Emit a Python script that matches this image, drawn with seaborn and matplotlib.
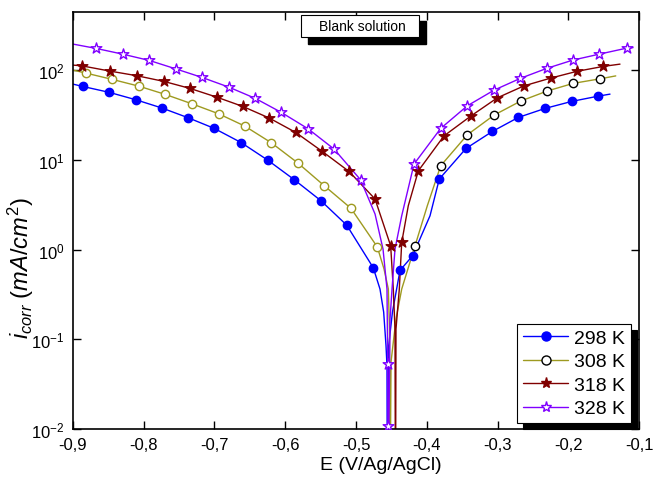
import numpy as np
import pandas as pd
import matplotlib
matplotlib.use("Agg")
import matplotlib.pyplot as plt
import seaborn as sns
from matplotlib.lines import Line2D
from matplotlib.patches import Rectangle

# =============================
# Data
# E in V vs Ag/AgCl, i in mA/cm2
# *_sym : points drawn with a symbol
# *_crv : extra points of the curve (ends, dip at Ecorr), no symbol
# =============================
E_298_sym = [-0.8863, -0.8487, -0.8110, -0.7738, -0.7370, -0.7003, -0.6625, -0.6248,
             -0.5872, -0.5495, -0.5131, -0.4756,
             -0.4378, -0.4200, -0.3823, -0.3445, -0.3074, -0.2706, -0.2329, -0.1951, -0.1575]
i_298_sym = [65.8, 56.5, 46.7, 37.7, 29.4, 22.4, 15.6, 9.93, 6.0, 3.5, 1.87, 0.627,
             0.586, 0.853, 6.11, 13.4, 20.7, 29.7, 37.4, 44.8, 51.3]
E_298_crv = [-0.900, -0.4661, -0.4609, -0.4576, -0.4562, -0.4557, -0.4538, -0.4485, -0.4426,
             -0.3954, -0.1410]
i_298_crv = [69.8, 0.363, 0.201, 0.085, 0.0507, 0.001, 0.085, 0.201, 0.363, 2.38, 54.0]

E_308_sym = [-0.8816, -0.8445, -0.8071, -0.7695, -0.7318, -0.6941, -0.6573, -0.6197,
             -0.5820, -0.5448, -0.5071, -0.4699,
             -0.4166, -0.3803, -0.3427, -0.3049, -0.2672, -0.2300, -0.1929, -0.1551]
i_308_sym = [92.6, 78.8, 66.3, 53.6, 42.1, 32.6, 23.8, 15.5, 9.2, 5.14, 2.88, 1.07,
             1.10, 8.59, 19.0, 31.5, 45.2, 58.4, 71.2, 80.0]
E_308_crv = [-0.900, -0.4604, -0.4543, -0.4527, -0.4520, -0.4505, -0.4435, -0.4354,
             -0.3992, -0.1329]
i_308_crv = [100.0, 0.607, 0.363, 0.13, 0.001, 0.056, 0.168, 0.363, 3.08, 86.2]
Ecorr_308 = -0.4520

E_318_sym = [-0.8877, -0.8477, -0.8091, -0.7714, -0.7346, -0.6969, -0.6601, -0.6225,
             -0.5852, -0.5476, -0.5099, -0.4731, -0.4510,
             -0.4354, -0.4119, -0.3756, -0.3379, -0.3003, -0.2625, -0.2248, -0.1881, -0.1505]
i_318_sym = [111.7, 97.5, 86.4, 74.8, 62.5, 50.0, 39.4, 29.2, 20.2, 12.4, 7.43, 3.66, 1.10,
             1.20, 7.55, 18.5, 30.7, 49.1, 66.8, 81.5, 96.8, 110.0]
E_318_crv = [-0.900, -0.4473, -0.4449, -0.4442, -0.4435, -0.4388, -0.4261, -0.1269]
i_318_crv = [113.7, 0.363, 0.13, 0.001, 0.13, 0.363, 3.08, 116.6]

E_328_sym = [-0.8675, -0.8298, -0.7922, -0.7548, -0.7177, -0.6799, -0.6423, -0.6056,
             -0.5678, -0.5311, -0.4936, -0.4552, -0.4550,
             -0.4180, -0.3803, -0.3427, -0.3049, -0.2678, -0.2305, -0.1937, -0.1561, -0.1174]
i_328_sym = [174.6, 150.7, 128.2, 103.3, 82.9, 64.7, 48.4, 33.8, 22.2, 13.2, 6.0, 0.053, 0.0108,
             8.97, 22.4, 40.0, 59.8, 80.9, 104.5, 129.2, 150.7, 175.8]
E_328_crv = [-0.900, -0.4731, -0.4618, -0.4562, -0.4548, -0.4519, -0.4491, -0.4449, -0.4354,
             -0.1085]
i_328_crv = [195.0, 2.49, 1.01, 0.363, 0.001, 0.168, 0.363, 1.01, 2.38, 178.0]

labels = ["298 K", "308 K", "318 K", "328 K"]
x_ticks = [-0.9, -0.8, -0.7, -0.6, -0.5, -0.4, -0.3, -0.2, -0.1]
x_ticklabels = ["-0,9", "-0,8", "-0,7", "-0,6", "-0,5", "-0,4", "-0,3", "-0,2", "-0,1"]

# =============================
# Style
# =============================
sns.set_style("ticks", {"axes.edgecolor": "black", "xtick.color": "black",
                        "ytick.color": "black", "text.color": "black",
                        "axes.labelcolor": "black",
                        "xtick.direction": "in", "ytick.direction": "in"})
plt.rcParams["font.family"] = ["Liberation Sans", "DejaVu Sans"]
plt.rcParams["mathtext.fontset"] = "custom"
plt.rcParams["mathtext.it"] = "Liberation Sans:italic"
plt.rcParams["mathtext.rm"] = "Liberation Sans"

blue, olive, wine, violet = "#0000FF", "#9E9A20", "#800000", "#8000FF"
styles = {
    "298 K": dict(color=blue, marker="o", face=blue, edge=blue, s=36),
    "308 K": dict(color=olive, marker="o", face="white", edge=olive, s=36),
    "318 K": dict(color=wine, marker="*", face=wine, edge=wine, s=65),
    "328 K": dict(color=violet, marker="*", face="white", edge=violet, s=65),
}
data = {
    "298 K": (E_298_sym, i_298_sym, E_298_crv, i_298_crv),
    "308 K": (E_308_sym, i_308_sym, E_308_crv, i_308_crv),
    "318 K": (E_318_sym, i_318_sym, E_318_crv, i_318_crv),
    "328 K": (E_328_sym, i_328_sym, E_328_crv, i_328_crv),
}

fig = plt.figure(figsize=(6.54, 4.81), dpi=100)
ax = fig.add_axes([0.1116, 0.106, 0.8655, 0.868])
ax.set_yscale("log")

for lab in labels:
    Es, is_, Ec, ic = data[lab]
    st = styles[lab]
    df = pd.DataFrame({"E": Es + Ec, "i": is_ + ic})
    sns.lineplot(data=df, x="E", y="i", sort=True, estimator=None,
                 color=st["color"], lw=1.0, ax=ax, zorder=2)
    sym = pd.DataFrame({"E": Es, "i": is_})
    if lab == "308 K":
        # anodic symbols of 308 K have a black outline
        cat = sym[sym.E < Ecorr_308]
        ano = sym[sym.E > Ecorr_308]
        sns.scatterplot(data=cat, x="E", y="i", marker="o", s=st["s"], color="white",
                        edgecolor=olive, linewidth=1.0, ax=ax, zorder=3)
        sns.scatterplot(data=ano, x="E", y="i", marker="o", s=st["s"], color="white",
                        edgecolor="black", linewidth=1.0, ax=ax, zorder=3)
    else:
        sns.scatterplot(data=sym, x="E", y="i", marker=st["marker"], s=st["s"],
                        color=st["face"], edgecolor=st["edge"], linewidth=1.0,
                        ax=ax, zorder=3)

ax.set_xlim(-0.9, -0.1)
ax.set_ylim(0.01, 450)
ax.set_xticks(x_ticks)
ax.set_xticklabels(x_ticklabels)
ax.yaxis.set_minor_locator(matplotlib.ticker.NullLocator())
ax.tick_params(which="major", direction="in", length=6, width=1.0,
               top=True, right=True, labelsize=12, pad=6)
for sp in ax.spines.values():
    sp.set_linewidth(1.2)
    sp.set_color("black")

ax.set_xlabel("E (V/Ag/AgCl)", fontsize=14)
ax.set_ylabel(r"$i_{corr}\ (mA/cm^{2})$", fontsize=17)
ax.xaxis.set_label_coords(0.544, -0.065)
ax.yaxis.set_label_coords(-0.066, 0.388)

# ---- "Blank solution" box with black shadow
ax.add_patch(Rectangle((0.4152, 0.9214), 0.2085, 0.0550, transform=ax.transAxes,
                       facecolor="black", edgecolor="black", clip_on=False, zorder=5))
ax.add_patch(Rectangle((0.4028, 0.9378), 0.2085, 0.0550, transform=ax.transAxes,
                       facecolor="white", edgecolor="black", lw=0.8, clip_on=False, zorder=6))
ax.text(0.5106, 0.9653, "Blank solution", transform=ax.transAxes, ha="center",
        va="center", fontsize=10, zorder=7)

# ---- Legend
handles = [Line2D([0], [0], color=styles[l]["color"], lw=1.0, marker=styles[l]["marker"],
                  ms=8 if styles[l]["marker"] == "*" else 6.5,
                  mfc=styles[l]["face"],
                  mec="black" if l == "308 K" else styles[l]["edge"], mew=1.0)
           for l in labels]
leg = ax.legend(handles, labels, loc="lower right", bbox_to_anchor=(0.986, 0.014),
                borderaxespad=0, fontsize=14, frameon=True, fancybox=False,
                framealpha=1, edgecolor="black", handlelength=2.35,
                handletextpad=0.3, labelspacing=0.3, borderpad=0.3,
                shadow={"ox": 4.3, "oy": -4.3, "facecolor": "black",
                        "edgecolor": "black", "alpha": 1})
leg.get_frame().set_linewidth(0.8)
leg.set_zorder(10)

plt.savefig("out.png", dpi=100)
